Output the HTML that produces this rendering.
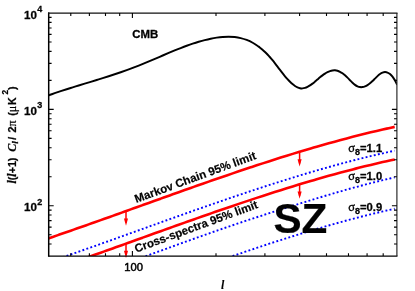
<!DOCTYPE html><html><head><meta charset="utf-8"><title>CMB SZ</title>
<style>html,body{margin:0;padding:0;background:#fff;}svg{display:block;}text{font-family:"Liberation Sans",sans-serif;font-weight:bold;fill:#000;stroke:#000;stroke-width:0.3px;}.ser{font-family:"Liberation Serif",serif;font-style:italic;font-weight:bold;}.sym{font-family:"Liberation Serif",serif;font-weight:normal;}</style></head><body>
<svg width="415" height="291" viewBox="0 0 415 291">
<rect width="415" height="291" fill="#fff"/>
<defs><clipPath id="c"><rect x="48.70" y="13.00" width="348.20" height="243.10"/></clipPath></defs>
<path d="M46.70 262.73 C47.70 262.39 50.70 261.37 52.70 260.68 C54.70 260.00 56.70 259.31 58.70 258.62 C60.70 257.94 62.70 257.25 64.70 256.55 C66.70 255.86 68.70 255.17 70.70 254.47 C72.70 253.77 74.70 253.08 76.70 252.38 C78.70 251.68 80.70 250.97 82.70 250.27 C84.70 249.57 86.70 248.86 88.70 248.16 C90.70 247.45 92.70 246.74 94.70 246.03 C96.70 245.33 98.70 244.62 100.70 243.90 C102.70 243.19 104.70 242.48 106.70 241.77 C108.70 241.06 110.70 240.34 112.70 239.63 C114.70 238.91 116.70 238.20 118.70 237.48 C120.70 236.76 122.70 236.05 124.70 235.33 C126.70 234.61 128.70 233.90 130.70 233.18 C132.70 232.46 134.70 231.74 136.70 231.02 C138.70 230.31 140.70 229.59 142.70 228.87 C144.70 228.15 146.70 227.43 148.70 226.72 C150.70 226.00 152.70 225.28 154.70 224.56 C156.70 223.85 158.70 223.13 160.70 222.41 C162.70 221.70 164.70 220.98 166.70 220.27 C168.70 219.55 170.70 218.84 172.70 218.12 C174.70 217.41 176.70 216.70 178.70 215.99 C180.70 215.27 182.70 214.56 184.70 213.85 C186.70 213.14 188.70 212.44 190.70 211.73 C192.70 211.02 194.70 210.32 196.70 209.61 C198.70 208.91 200.70 208.21 202.70 207.51 C204.70 206.81 206.70 206.11 208.70 205.41 C210.70 204.71 212.70 204.02 214.70 203.32 C216.70 202.63 218.70 201.94 220.70 201.25 C222.70 200.56 224.70 199.87 226.70 199.19 C228.70 198.50 230.70 197.82 232.70 197.14 C234.70 196.46 236.70 195.78 238.70 195.11 C240.70 194.43 242.70 193.76 244.70 193.09 C246.70 192.42 248.70 191.76 250.70 191.09 C252.70 190.43 254.70 189.77 256.70 189.11 C258.70 188.45 260.70 187.80 262.70 187.15 C264.70 186.50 266.70 185.85 268.70 185.20 C270.70 184.56 272.70 183.92 274.70 183.28 C276.70 182.64 278.70 182.01 280.70 181.38 C282.70 180.75 284.70 180.12 286.70 179.50 C288.70 178.88 290.70 178.26 292.70 177.65 C294.70 177.03 296.70 176.42 298.70 175.82 C300.70 175.21 302.70 174.61 304.70 174.01 C306.70 173.41 308.70 172.82 310.70 172.23 C312.70 171.65 314.70 171.06 316.70 170.48 C318.70 169.90 320.70 169.33 322.70 168.76 C324.70 168.19 326.70 167.63 328.70 167.07 C330.70 166.51 332.70 165.96 334.70 165.41 C336.70 164.86 338.70 164.31 340.70 163.78 C342.70 163.24 344.70 162.70 346.70 162.18 C348.70 161.65 350.70 161.13 352.70 160.61 C354.70 160.10 356.70 159.59 358.70 159.08 C360.70 158.58 362.70 158.08 364.70 157.58 C366.70 157.09 368.70 156.61 370.70 156.13 C372.70 155.65 374.70 155.17 376.70 154.70 C378.70 154.24 380.70 153.77 382.70 153.32 C384.70 152.86 386.70 152.42 388.70 151.97 C390.70 151.53 393.70 150.89 394.70 150.67" fill="none" stroke="#0000ff" stroke-width="1.9" stroke-dasharray="1.9 2.3" clip-path="url(#c)"/>
<path d="M46.70 291.91 C47.70 291.56 50.70 290.52 52.70 289.82 C54.70 289.12 56.70 288.42 58.70 287.72 C60.70 287.01 62.70 286.31 64.70 285.60 C66.70 284.89 68.70 284.18 70.70 283.47 C72.70 282.76 74.70 282.05 76.70 281.33 C78.70 280.62 80.70 279.90 82.70 279.18 C84.70 278.46 86.70 277.74 88.70 277.02 C90.70 276.30 92.70 275.58 94.70 274.86 C96.70 274.13 98.70 273.41 100.70 272.68 C102.70 271.95 104.70 271.23 106.70 270.50 C108.70 269.77 110.70 269.04 112.70 268.31 C114.70 267.58 116.70 266.85 118.70 266.12 C120.70 265.39 122.70 264.66 124.70 263.93 C126.70 263.20 128.70 262.46 130.70 261.73 C132.70 261.00 134.70 260.27 136.70 259.53 C138.70 258.80 140.70 258.07 142.70 257.34 C144.70 256.60 146.70 255.87 148.70 255.14 C150.70 254.41 152.70 253.68 154.70 252.94 C156.70 252.21 158.70 251.48 160.70 250.75 C162.70 250.02 164.70 249.29 166.70 248.57 C168.70 247.84 170.70 247.11 172.70 246.39 C174.70 245.66 176.70 244.94 178.70 244.21 C180.70 243.49 182.70 242.77 184.70 242.05 C186.70 241.33 188.70 240.61 190.70 239.90 C192.70 239.18 194.70 238.47 196.70 237.76 C198.70 237.05 200.70 236.34 202.70 235.63 C204.70 234.92 206.70 234.22 208.70 233.52 C210.70 232.82 212.70 232.12 214.70 231.42 C216.70 230.73 218.70 230.03 220.70 229.34 C222.70 228.65 224.70 227.97 226.70 227.28 C228.70 226.60 230.70 225.92 232.70 225.24 C234.70 224.56 236.70 223.89 238.70 223.22 C240.70 222.55 242.70 221.88 244.70 221.21 C246.70 220.55 248.70 219.89 250.70 219.23 C252.70 218.57 254.70 217.91 256.70 217.26 C258.70 216.61 260.70 215.96 262.70 215.31 C264.70 214.66 266.70 214.01 268.70 213.37 C270.70 212.73 272.70 212.09 274.70 211.45 C276.70 210.81 278.70 210.18 280.70 209.54 C282.70 208.91 284.70 208.28 286.70 207.65 C288.70 207.02 290.70 206.40 292.70 205.77 C294.70 205.15 296.70 204.52 298.70 203.90 C300.70 203.28 302.70 202.67 304.70 202.05 C306.70 201.44 308.70 200.82 310.70 200.21 C312.70 199.60 314.70 199.00 316.70 198.39 C318.70 197.79 320.70 197.19 322.70 196.59 C324.70 195.99 326.70 195.40 328.70 194.81 C330.70 194.22 332.70 193.63 334.70 193.05 C336.70 192.47 338.70 191.89 340.70 191.32 C342.70 190.75 344.70 190.18 346.70 189.62 C348.70 189.06 350.70 188.50 352.70 187.95 C354.70 187.40 356.70 186.85 358.70 186.31 C360.70 185.78 362.70 185.24 364.70 184.72 C366.70 184.19 368.70 183.67 370.70 183.16 C372.70 182.65 374.70 182.14 376.70 181.65 C378.70 181.15 380.70 180.66 382.70 180.17 C384.70 179.69 386.70 179.21 388.70 178.75 C390.70 178.28 393.70 177.59 394.70 177.36" fill="none" stroke="#0000ff" stroke-width="1.9" stroke-dasharray="1.9 2.3" clip-path="url(#c)"/>
<path d="M46.70 322.67 C47.70 322.32 50.70 321.28 52.70 320.59 C54.70 319.89 56.70 319.20 58.70 318.50 C60.70 317.80 62.70 317.10 64.70 316.40 C66.70 315.69 68.70 314.99 70.70 314.28 C72.70 313.57 74.70 312.86 76.70 312.15 C78.70 311.44 80.70 310.73 82.70 310.02 C84.70 309.30 86.70 308.59 88.70 307.87 C90.70 307.15 92.70 306.43 94.70 305.71 C96.70 304.99 98.70 304.27 100.70 303.55 C102.70 302.83 104.70 302.11 106.70 301.38 C108.70 300.66 110.70 299.93 112.70 299.21 C114.70 298.48 116.70 297.76 118.70 297.03 C120.70 296.30 122.70 295.58 124.70 294.85 C126.70 294.12 128.70 293.39 130.70 292.66 C132.70 291.93 134.70 291.21 136.70 290.48 C138.70 289.75 140.70 289.02 142.70 288.29 C144.70 287.56 146.70 286.83 148.70 286.10 C150.70 285.37 152.70 284.65 154.70 283.92 C156.70 283.19 158.70 282.46 160.70 281.73 C162.70 281.01 164.70 280.28 166.70 279.55 C168.70 278.83 170.70 278.10 172.70 277.38 C174.70 276.66 176.70 275.93 178.70 275.21 C180.70 274.49 182.70 273.77 184.70 273.05 C186.70 272.32 188.70 271.61 190.70 270.89 C192.70 270.17 194.70 269.45 196.70 268.74 C198.70 268.02 200.70 267.31 202.70 266.60 C204.70 265.89 206.70 265.18 208.70 264.47 C210.70 263.76 212.70 263.06 214.70 262.35 C216.70 261.65 218.70 260.94 220.70 260.24 C222.70 259.54 224.70 258.85 226.70 258.15 C228.70 257.46 230.70 256.76 232.70 256.07 C234.70 255.38 236.70 254.69 238.70 254.01 C240.70 253.32 242.70 252.64 244.70 251.96 C246.70 251.28 248.70 250.60 250.70 249.92 C252.70 249.25 254.70 248.58 256.70 247.91 C258.70 247.24 260.70 246.58 262.70 245.91 C264.70 245.25 266.70 244.59 268.70 243.94 C270.70 243.28 272.70 242.63 274.70 241.98 C276.70 241.34 278.70 240.69 280.70 240.05 C282.70 239.41 284.70 238.77 286.70 238.14 C288.70 237.51 290.70 236.88 292.70 236.25 C294.70 235.63 296.70 235.01 298.70 234.39 C300.70 233.77 302.70 233.16 304.70 232.55 C306.70 231.94 308.70 231.34 310.70 230.74 C312.70 230.14 314.70 229.55 316.70 228.96 C318.70 228.37 320.70 227.78 322.70 227.20 C324.70 226.62 326.70 226.05 328.70 225.48 C330.70 224.91 332.70 224.34 334.70 223.78 C336.70 223.22 338.70 222.67 340.70 222.12 C342.70 221.57 344.70 221.03 346.70 220.49 C348.70 219.95 350.70 219.42 352.70 218.89 C354.70 218.36 356.70 217.84 358.70 217.33 C360.70 216.81 362.70 216.30 364.70 215.80 C366.70 215.30 368.70 214.80 370.70 214.31 C372.70 213.82 374.70 213.33 376.70 212.85 C378.70 212.37 380.70 211.90 382.70 211.44 C384.70 210.97 386.70 210.51 388.70 210.06 C390.70 209.61 393.70 208.94 394.70 208.72" fill="none" stroke="#0000ff" stroke-width="1.9" stroke-dasharray="1.9 2.3" clip-path="url(#c)"/>
<path d="M46.70 238.95 C47.70 238.61 50.70 237.59 52.70 236.90 C54.70 236.22 56.70 235.53 58.70 234.84 C60.70 234.16 62.70 233.47 64.70 232.77 C66.70 232.08 68.70 231.39 70.70 230.69 C72.70 229.99 74.70 229.30 76.70 228.60 C78.70 227.90 80.70 227.19 82.70 226.49 C84.70 225.79 86.70 225.08 88.70 224.38 C90.70 223.67 92.70 222.96 94.70 222.25 C96.70 221.55 98.70 220.84 100.70 220.12 C102.70 219.41 104.70 218.70 106.70 217.99 C108.70 217.28 110.70 216.56 112.70 215.85 C114.70 215.13 116.70 214.42 118.70 213.70 C120.70 212.98 122.70 212.27 124.70 211.55 C126.70 210.83 128.70 210.12 130.70 209.40 C132.70 208.68 134.70 207.96 136.70 207.24 C138.70 206.53 140.70 205.81 142.70 205.09 C144.70 204.37 146.70 203.65 148.70 202.94 C150.70 202.22 152.70 201.50 154.70 200.78 C156.70 200.07 158.70 199.35 160.70 198.63 C162.70 197.92 164.70 197.20 166.70 196.49 C168.70 195.77 170.70 195.06 172.70 194.34 C174.70 193.63 176.70 192.92 178.70 192.21 C180.70 191.49 182.70 190.78 184.70 190.07 C186.70 189.36 188.70 188.66 190.70 187.95 C192.70 187.24 194.70 186.54 196.70 185.83 C198.70 185.13 200.70 184.43 202.70 183.73 C204.70 183.03 206.70 182.33 208.70 181.63 C210.70 180.93 212.70 180.24 214.70 179.54 C216.70 178.85 218.70 178.16 220.70 177.47 C222.70 176.78 224.70 176.09 226.70 175.41 C228.70 174.72 230.70 174.04 232.70 173.36 C234.70 172.68 236.70 172.00 238.70 171.33 C240.70 170.65 242.70 169.98 244.70 169.31 C246.70 168.64 248.70 167.98 250.70 167.31 C252.70 166.65 254.70 165.99 256.70 165.33 C258.70 164.67 260.70 164.02 262.70 163.37 C264.70 162.72 266.70 162.07 268.70 161.42 C270.70 160.78 272.70 160.14 274.70 159.50 C276.70 158.86 278.70 158.23 280.70 157.60 C282.70 156.97 284.70 156.34 286.70 155.72 C288.70 155.10 290.70 154.48 292.70 153.87 C294.70 153.25 296.70 152.64 298.70 152.04 C300.70 151.43 302.70 150.83 304.70 150.23 C306.70 149.63 308.70 149.04 310.70 148.45 C312.70 147.87 314.70 147.28 316.70 146.70 C318.70 146.12 320.70 145.55 322.70 144.98 C324.70 144.41 326.70 143.85 328.70 143.29 C330.70 142.73 332.70 142.18 334.70 141.63 C336.70 141.08 338.70 140.53 340.70 140.00 C342.70 139.46 344.70 138.92 346.70 138.40 C348.70 137.87 350.70 137.35 352.70 136.83 C354.70 136.32 356.70 135.81 358.70 135.30 C360.70 134.80 362.70 134.30 364.70 133.80 C366.70 133.31 368.70 132.83 370.70 132.35 C372.70 131.87 374.70 131.39 376.70 130.92 C378.70 130.46 380.70 129.99 382.70 129.54 C384.70 129.08 386.70 128.64 388.70 128.19 C390.70 127.75 393.70 127.11 394.70 126.89" fill="none" stroke="#ff0000" stroke-width="2.6" clip-path="url(#c)"/>
<path d="M46.70 271.51 C47.70 271.17 50.70 270.15 52.70 269.46 C54.70 268.78 56.70 268.09 58.70 267.40 C60.70 266.72 62.70 266.03 64.70 265.33 C66.70 264.64 68.70 263.95 70.70 263.25 C72.70 262.55 74.70 261.86 76.70 261.16 C78.70 260.46 80.70 259.75 82.70 259.05 C84.70 258.35 86.70 257.64 88.70 256.94 C90.70 256.23 92.70 255.52 94.70 254.81 C96.70 254.11 98.70 253.40 100.70 252.68 C102.70 251.97 104.70 251.26 106.70 250.55 C108.70 249.84 110.70 249.12 112.70 248.41 C114.70 247.69 116.70 246.98 118.70 246.26 C120.70 245.54 122.70 244.83 124.70 244.11 C126.70 243.39 128.70 242.68 130.70 241.96 C132.70 241.24 134.70 240.52 136.70 239.80 C138.70 239.09 140.70 238.37 142.70 237.65 C144.70 236.93 146.70 236.21 148.70 235.50 C150.70 234.78 152.70 234.06 154.70 233.34 C156.70 232.63 158.70 231.91 160.70 231.19 C162.70 230.48 164.70 229.76 166.70 229.05 C168.70 228.33 170.70 227.62 172.70 226.90 C174.70 226.19 176.70 225.48 178.70 224.77 C180.70 224.05 182.70 223.34 184.70 222.63 C186.70 221.92 188.70 221.22 190.70 220.51 C192.70 219.80 194.70 219.10 196.70 218.39 C198.70 217.69 200.70 216.99 202.70 216.29 C204.70 215.59 206.70 214.89 208.70 214.19 C210.70 213.49 212.70 212.80 214.70 212.10 C216.70 211.41 218.70 210.72 220.70 210.03 C222.70 209.34 224.70 208.65 226.70 207.97 C228.70 207.28 230.70 206.60 232.70 205.92 C234.70 205.24 236.70 204.56 238.70 203.89 C240.70 203.21 242.70 202.54 244.70 201.87 C246.70 201.20 248.70 200.54 250.70 199.87 C252.70 199.21 254.70 198.55 256.70 197.89 C258.70 197.23 260.70 196.58 262.70 195.93 C264.70 195.28 266.70 194.63 268.70 193.98 C270.70 193.34 272.70 192.70 274.70 192.06 C276.70 191.42 278.70 190.79 280.70 190.16 C282.70 189.53 284.70 188.90 286.70 188.28 C288.70 187.66 290.70 187.04 292.70 186.43 C294.70 185.81 296.70 185.20 298.70 184.60 C300.70 183.99 302.70 183.39 304.70 182.79 C306.70 182.19 308.70 181.60 310.70 181.01 C312.70 180.43 314.70 179.84 316.70 179.26 C318.70 178.68 320.70 178.11 322.70 177.54 C324.70 176.97 326.70 176.41 328.70 175.85 C330.70 175.29 332.70 174.74 334.70 174.19 C336.70 173.64 338.70 173.09 340.70 172.56 C342.70 172.02 344.70 171.48 346.70 170.96 C348.70 170.43 350.70 169.91 352.70 169.39 C354.70 168.88 356.70 168.37 358.70 167.86 C360.70 167.36 362.70 166.86 364.70 166.36 C366.70 165.87 368.70 165.39 370.70 164.91 C372.70 164.43 374.70 163.95 376.70 163.48 C378.70 163.02 380.70 162.55 382.70 162.10 C384.70 161.64 386.70 161.20 388.70 160.75 C390.70 160.31 393.70 159.67 394.70 159.45" fill="none" stroke="#ff0000" stroke-width="2.6" clip-path="url(#c)"/>
<path d="M126.00 211.08 V222.78" stroke="#ff0000" stroke-width="1.5" fill="none"/>
<path d="M123.95 218.58 L128.05 218.58 L126.00 225.78 Z" fill="#ff0000"/>
<path d="M126.00 243.34 V255.04" stroke="#ff0000" stroke-width="1.5" fill="none"/>
<path d="M123.95 250.84 L128.05 250.84 L126.00 258.04 Z" fill="#ff0000"/>
<path d="M299.60 151.76 V163.46" stroke="#ff0000" stroke-width="1.5" fill="none"/>
<path d="M297.55 159.26 L301.65 159.26 L299.60 166.46 Z" fill="#ff0000"/>
<path d="M299.60 184.02 V195.72" stroke="#ff0000" stroke-width="1.5" fill="none"/>
<path d="M297.55 191.52 L301.65 191.52 L299.60 198.72 Z" fill="#ff0000"/>
<path d="M48.70 95.29 C49.70 94.94 52.70 93.87 54.70 93.18 C56.70 92.49 58.70 91.82 60.70 91.16 C62.70 90.50 64.70 89.85 66.70 89.21 C68.70 88.57 70.70 87.95 72.70 87.32 C74.70 86.70 76.70 86.09 78.70 85.47 C80.70 84.86 82.70 84.25 84.70 83.65 C86.70 83.04 88.70 82.43 90.70 81.83 C92.70 81.22 94.70 80.61 96.70 80.00 C98.70 79.38 100.70 78.77 102.70 78.14 C104.70 77.52 106.70 76.89 108.70 76.24 C110.70 75.60 112.70 74.95 114.70 74.29 C116.70 73.62 118.70 72.95 120.70 72.26 C122.70 71.56 124.70 70.86 126.70 70.13 C128.70 69.41 130.70 68.66 132.70 67.90 C134.70 67.14 136.70 66.35 138.70 65.56 C140.70 64.76 142.70 63.94 144.70 63.12 C146.70 62.30 148.70 61.46 150.70 60.62 C152.70 59.77 154.70 58.92 156.70 58.07 C158.70 57.22 160.70 56.36 162.70 55.51 C164.70 54.65 166.70 53.80 168.70 52.96 C170.70 52.11 172.70 51.28 174.70 50.46 C176.70 49.64 178.70 48.83 180.70 48.05 C182.70 47.27 184.70 46.50 186.70 45.77 C188.70 45.04 190.70 44.33 192.70 43.66 C194.70 42.99 196.70 42.35 198.70 41.75 C200.70 41.16 202.70 40.59 204.70 40.09 C206.70 39.58 208.70 39.11 210.70 38.70 C212.70 38.29 214.70 37.93 216.70 37.64 C218.70 37.34 220.70 37.09 222.70 36.93 C224.70 36.78 226.70 36.68 228.70 36.69 C230.70 36.71 232.70 36.81 234.70 37.04 C236.70 37.27 238.70 37.60 240.70 38.08 C242.70 38.57 244.70 39.17 246.70 39.95 C248.70 40.73 250.70 41.65 252.70 42.77 C254.70 43.88 257.48 45.83 258.70 46.64 C259.92 47.46 259.37 47.13 260.00 47.64 C260.63 48.15 261.67 48.98 262.50 49.70 C263.33 50.43 264.17 51.19 265.00 51.99 C265.83 52.79 266.67 53.63 267.50 54.51 C268.33 55.38 269.17 56.30 270.00 57.26 C270.83 58.21 271.67 59.22 272.50 60.24 C273.33 61.26 274.17 62.33 275.00 63.39 C275.83 64.46 276.67 65.56 277.50 66.65 C278.33 67.73 279.17 68.84 280.00 69.92 C280.83 71.01 281.67 72.09 282.50 73.15 C283.33 74.21 284.17 75.25 285.00 76.26 C285.83 77.26 286.67 78.24 287.50 79.16 C288.33 80.09 289.17 80.98 290.00 81.80 C290.83 82.63 291.67 83.40 292.50 84.10 C293.33 84.80 294.17 85.44 295.00 85.98 C295.83 86.53 296.67 87.00 297.50 87.37 C298.33 87.74 299.17 88.03 300.00 88.20 C300.83 88.37 301.67 88.43 302.50 88.39 C303.33 88.34 304.17 88.17 305.00 87.92 C305.83 87.67 306.67 87.31 307.50 86.90 C308.33 86.48 309.17 85.97 310.00 85.42 C310.83 84.88 311.67 84.26 312.50 83.62 C313.33 82.99 314.17 82.29 315.00 81.60 C315.83 80.91 316.67 80.19 317.50 79.48 C318.33 78.78 319.17 78.06 320.00 77.37 C320.83 76.69 321.67 76.01 322.50 75.39 C323.33 74.76 324.17 74.17 325.00 73.63 C325.83 73.10 326.67 72.60 327.50 72.18 C328.33 71.76 329.17 71.39 330.00 71.10 C330.83 70.82 331.67 70.59 332.50 70.47 C333.33 70.34 334.17 70.29 335.00 70.34 C335.83 70.39 336.67 70.54 337.50 70.78 C338.33 71.01 339.17 71.35 340.00 71.76 C340.83 72.17 341.67 72.68 342.50 73.26 C343.33 73.84 344.17 74.51 345.00 75.24 C345.83 75.97 346.67 76.81 347.50 77.64 C348.33 78.47 349.17 79.38 350.00 80.23 C350.83 81.08 351.67 81.96 352.50 82.73 C353.33 83.51 354.17 84.27 355.00 84.88 C355.83 85.48 356.67 86.01 357.50 86.38 C358.33 86.75 359.17 86.98 360.00 87.09 C360.83 87.20 361.67 87.17 362.50 87.05 C363.33 86.93 364.17 86.68 365.00 86.35 C365.83 86.01 366.67 85.57 367.50 85.06 C368.33 84.55 369.17 83.94 370.00 83.27 C370.83 82.61 371.67 81.85 372.50 81.06 C373.33 80.28 374.17 79.40 375.00 78.58 C375.83 77.76 376.67 76.89 377.50 76.13 C378.33 75.37 379.17 74.61 380.00 74.03 C380.83 73.44 381.67 72.93 382.50 72.61 C383.33 72.29 384.17 72.10 385.00 72.09 C385.83 72.08 386.67 72.21 387.50 72.54 C388.33 72.87 389.17 73.36 390.00 74.05 C390.83 74.74 391.67 75.61 392.50 76.69 C393.33 77.77 394.23 79.19 395.00 80.53 C395.77 81.87 396.75 84.04 397.10 84.74" fill="none" stroke="#000" stroke-width="1.95" clip-path="url(#c)"/>
<path d="M48.70 12.40 V256.80" fill="none" stroke="#000" stroke-width="1.5"/>
<path d="M48.70 256.10 H397.50" fill="none" stroke="#000" stroke-width="1.4"/>
<path d="M48.00 13.00 H397.50" fill="none" stroke="#111" stroke-width="1.25"/>
<path d="M396.90 13.00 V256.10" fill="none" stroke="#222" stroke-width="1.15"/>
<path d="M70.79 13.00 v2.90 M70.79 256.10 v-2.90 M89.38 13.00 v2.90 M89.38 256.10 v-2.90 M105.49 13.00 v2.90 M105.49 256.10 v-2.90 M119.69 13.00 v2.90 M119.69 256.10 v-2.90 M132.40 13.00 v5.00 M132.40 256.10 v-5.00 M216.00 13.00 v2.90 M216.00 256.10 v-2.90 M264.90 13.00 v2.90 M264.90 256.10 v-2.90 M299.59 13.00 v2.90 M299.59 256.10 v-2.90 M326.50 13.00 v2.90 M326.50 256.10 v-2.90 M348.49 13.00 v2.90 M348.49 256.10 v-2.90 M367.08 13.00 v2.90 M367.08 256.10 v-2.90 M383.19 13.00 v2.90 M383.19 256.10 v-2.90 M48.70 244.07 h2.90 M396.90 244.07 h-2.90 M48.70 234.73 h2.90 M396.90 234.73 h-2.90 M48.70 227.10 h2.90 M396.90 227.10 h-2.90 M48.70 220.65 h2.90 M396.90 220.65 h-2.90 M48.70 215.06 h2.90 M396.90 215.06 h-2.90 M48.70 210.13 h2.90 M396.90 210.13 h-2.90 M48.70 205.72 h5.00 M396.90 205.72 h-5.00 M48.70 176.71 h2.90 M396.90 176.71 h-2.90 M48.70 159.74 h2.90 M396.90 159.74 h-2.90 M48.70 147.71 h2.90 M396.90 147.71 h-2.90 M48.70 138.37 h2.90 M396.90 138.37 h-2.90 M48.70 130.74 h2.90 M396.90 130.74 h-2.90 M48.70 124.29 h2.90 M396.90 124.29 h-2.90 M48.70 118.70 h2.90 M396.90 118.70 h-2.90 M48.70 113.77 h2.90 M396.90 113.77 h-2.90 M48.70 109.36 h5.00 M396.90 109.36 h-5.00 M48.70 80.35 h2.90 M396.90 80.35 h-2.90 M48.70 63.38 h2.90 M396.90 63.38 h-2.90 M48.70 51.35 h2.90 M396.90 51.35 h-2.90 M48.70 42.01 h2.90 M396.90 42.01 h-2.90 M48.70 34.38 h2.90 M396.90 34.38 h-2.90 M48.70 27.93 h2.90 M396.90 27.93 h-2.90 M48.70 22.34 h2.90 M396.90 22.34 h-2.90 M48.70 17.41 h2.90 M396.90 17.41 h-2.90" fill="none" stroke="#000" stroke-width="1.1"/>
<g opacity="0.996">
<text x="37.0" y="18.50" font-size="11.6" text-anchor="end">10</text>
<text x="37.2" y="11.80" font-size="9">4</text>
<text x="37.0" y="114.86" font-size="11.6" text-anchor="end">10</text>
<text x="37.2" y="108.16" font-size="9">3</text>
<text x="37.0" y="211.22" font-size="11.6" text-anchor="end">10</text>
<text x="37.2" y="204.52" font-size="9">2</text>
<text x="133.60" y="271.0" font-size="11.2" text-anchor="middle" style="font-weight:normal;stroke-width:0.5px">100</text>
<text class="ser" x="222.6" y="289.1" font-size="11.9" text-anchor="middle" style="stroke-width:0.1px">l</text>
<text x="132.2" y="38.3" font-size="11.4">CMB</text>
<text transform="translate(15.5,183.6) rotate(-90)" font-size="10.7" style="stroke-width:0.25px"><tspan x="0" class="ser" font-size="12">l</tspan>(<tspan class="ser" font-size="12">l</tspan>+1)<tspan x="31.80" class="ser" font-size="12">C</tspan><tspan class="ser" font-size="9" dy="2.5">l</tspan><tspan x="43.90" dy="-2.5">/</tspan><tspan x="51.20">2</tspan><tspan class="sym" font-size="12">π</tspan><tspan x="67.90">(</tspan><tspan class="sym" font-size="12">μ</tspan><tspan dx="0.6">K</tspan><tspan x="89.00" font-size="8.4" dy="-8">2</tspan><tspan x="93.70" dy="8">)</tspan></text>
<text transform="translate(136.25,203.1) rotate(-20.2)" font-size="11.5" style="stroke-width:0.2px">Markov Chain 95% limit</text>
<text transform="translate(136.2,252.7) rotate(-20.2)" font-size="11.5" style="stroke-width:0.2px">Cross-spectra 95% limit</text>
<text x="348.3" y="151.80" font-size="11.2"><tspan class="sym" font-size="12.5">σ</tspan><tspan font-size="9" dy="3.6">8</tspan><tspan dy="-3.6">=1.1</tspan></text>
<text x="348.3" y="179.80" font-size="11.2"><tspan class="sym" font-size="12.5">σ</tspan><tspan font-size="9" dy="3.6">8</tspan><tspan dy="-3.6">=1.0</tspan></text>
<text x="348.3" y="210.60" font-size="11.2"><tspan class="sym" font-size="12.5">σ</tspan><tspan font-size="9" dy="3.6">8</tspan><tspan dy="-3.6">=0.9</tspan></text>
<text x="273.4" y="232.6" font-size="42.2" style="stroke-width:0.2px">SZ</text>
</g>
</svg></body></html>
